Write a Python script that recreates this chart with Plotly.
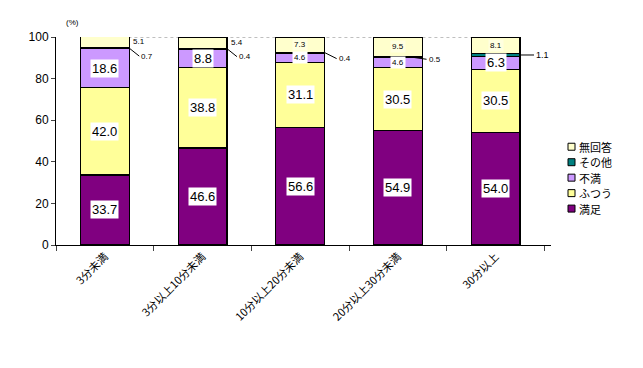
import plotly.graph_objects as go

categories = ["3分未満", "3分以上10分未満", "10分以上20分未満", "20分以上30分未満", "30分以上"]
series_names = ["満足", "ふつう", "不満", "その他", "無回答"]
manzoku = [33.7, 46.6, 56.6, 54.9, 54.0]
futsuu = [42.0, 38.8, 31.1, 30.5, 30.5]
fuman = [18.6, 8.8, 4.6, 4.6, 6.3]
sonota = [0.7, 0.4, 0.4, 0.5, 1.1]
mukaitou = [5.1, 5.4, 7.3, 9.5, 8.1]
y_ticks = [0, 20, 40, 60, 80, 100]

values = [manzoku, futsuu, fuman, sonota, mukaitou]
colors = ["#800080", "#FFFF99", "#CC99FF", "#008080", "#FFFFCC"]

FONT = "Liberation Sans, Arial, Noto Sans CJK JP"
JFONT = "Noto Sans CJK JP, Liberation Sans"

W, H = 643, 368
L, R, T, B = 56, 92, 37, 122.5
PW, PH = W - L - R, H - T - B


def px(xp):
    return (xp - L) / PW


def py(yp):
    return (H - B - yp) / PH


fig = go.Figure()
for name, vals, col in zip(series_names, values, colors):
    fig.add_trace(go.Bar(
        x=categories, y=vals, name=name,
        marker=dict(color=col, line=dict(color="black", width=1.2)),
        width=0.5, hoverinfo="skip", showlegend=False))

ann = []
shapes = []
n = len(categories)
base = [[0.0] * n for _ in values]
for s in range(1, len(values)):
    for i in range(n):
        base[s][i] = base[s - 1][i] + values[s - 1][i]

for s in range(3):
    for i in range(n):
        v = values[s][i]
        mid = base[s][i] + v / 2
        big = v >= 6
        ann.append(dict(x=i, y=mid, xref="x", yref="y", text=f"{v:.1f}",
                        showarrow=False, bgcolor="white", borderpad=1,
                        font=dict(family=FONT, size=13 if big else 8, color="black")))

for i in range(n):
    v = mukaitou[i]
    top = base[4][i] + v
    if i < 2:
        ann.append(dict(x=i + 0.27, y=top - 2.5, xref="x", yref="y", text=f"{v:.1f}",
                        showarrow=False, xanchor="left",
                        font=dict(family=FONT, size=8, color="black")))
    else:
        ann.append(dict(x=i, y=base[4][i] + v / 2, xref="x", yref="y", text=f"{v:.1f}",
                        showarrow=False, bgcolor="#FFFFE0",
                        font=dict(family=FONT, size=8, color="black")))

offsets = [(10, 8), (10, 8), (12, 6), (14, 2), (14, 0)]
for i in range(n):
    v = sonota[i]
    y = base[3][i] + v / 2
    xa = i + 0.25 if i != 3 else i + 0.15
    ax, ay = offsets[i]
    ann.append(dict(x=xa, y=y, xref="x", yref="y", text=f"{v:.1f}",
                    showarrow=True, arrowhead=0, arrowwidth=1, arrowcolor="black",
                    ax=ax, ay=ay, xanchor="left", standoff=0,
                    font=dict(family=FONT, size=9 if i == 4 else 8, color="black")))

ann.append(dict(xref="paper", yref="paper", x=px(64), y=py(16),
                text="(%)", showarrow=False,
                font=dict(family=FONT, size=8, color="black")))

# legend (manual, reversed order)
leg_y = [209, 193.5, 178, 162.5, 147]
for name, col, yc in zip(series_names, colors, leg_y):
    shapes.append(dict(type="rect", xref="paper", yref="paper",
                       x0=px(568), x1=px(575), y0=py(yc + 3.5), y1=py(yc - 3.5),
                       fillcolor=col, line=dict(color="black", width=1)))
    ann.append(dict(xref="paper", yref="paper", x=px(578), y=py(yc), text=name,
                    showarrow=False, xanchor="left", yanchor="middle", borderpad=0,
                    font=dict(family=JFONT, size=11, color="black")))

shapes.append(dict(type="line", xref="x", yref="y", x0=-0.25, x1=4.25, y0=100, y1=100,
                   line=dict(color="gray", width=1, dash="dot"), layer="below"))

fig.update_layout(
    width=W, height=H,
    margin=dict(l=L, r=R, t=T, b=B, autoexpand=False),
    barmode="stack", bargap=0.5,
    plot_bgcolor="white", paper_bgcolor="white",
    showlegend=False,
    annotations=ann, shapes=shapes,
    font=dict(family=FONT, color="black"),
)
fig.update_yaxes(range=[0, 100], tickvals=y_ticks, ticks="outside", ticklen=4,
                 showline=True, linecolor="black", linewidth=1, showgrid=False,
                 zeroline=False, automargin=False,
                 tickfont=dict(family=FONT, size=12, color="black"))
fig.update_xaxes(ticks="outside", tickson="boundaries", ticklen=5,
                 showline=True, linecolor="black", linewidth=1, showgrid=False,
                 tickangle=-45, automargin=False,
                 tickfont=dict(family=JFONT, size=11, color="black"))

fig.write_html("out.html", config={"displayModeBar": False},
               post_script="document.body.style.margin='0';")
